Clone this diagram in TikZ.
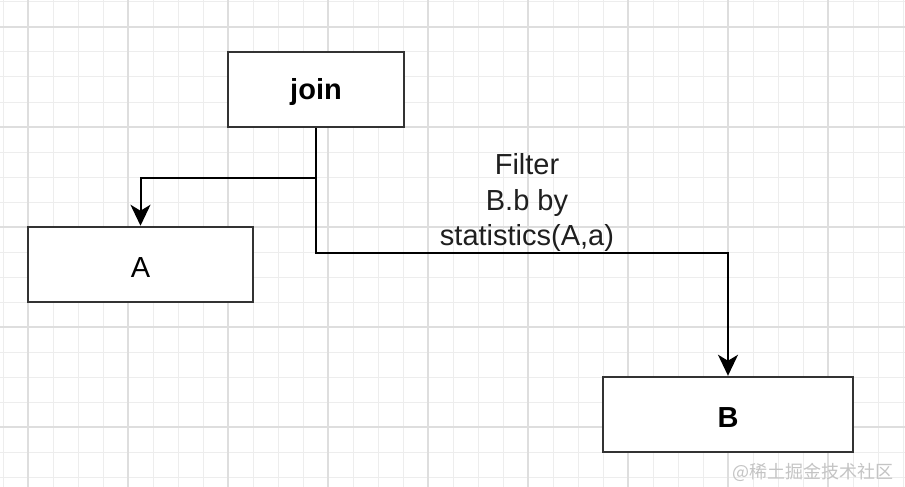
\documentclass[tikz,border=0pt]{standalone}
\usepackage{fontspec}
\setmainfont{Liberation Sans}
\newfontfamily\cjk{Noto Sans CJK SC}
\usetikzlibrary{arrows.meta}
\definecolor{minorgrid}{HTML}{EDEDED}
\definecolor{majorgrid}{HTML}{DEDEDE}
\definecolor{boxline}{HTML}{333333}
\definecolor{wmark}{HTML}{C4C4C4}
\tikzset{
  minorline/.style={draw=minorgrid, line width=1pt},
  majorline/.style={draw=majorgrid, line width=1.3pt},
  boxnode/.style={draw=boxline, line width=2.5pt, fill=white, inner sep=0pt, minimum height=75pt, font=\fontsize{29}{34}\selectfont},
  boxtext/.style={inner sep=0pt, font=\fontsize{29}{34}\selectfont},
  conn/.style={draw=black, line width=2pt, -{Stealth[length=21pt,width=20pt,inset=6pt]}},
  lbl/.style={align=center, inner sep=0pt, font=\fontsize{29}{35.5}\selectfont, text=black!88}
}
\begin{document}
\begin{tikzpicture}[x=1pt,y=-1pt]
\useasboundingbox (0,0) rectangle (905,487);
\fill[white] (0,0) rectangle (905,487);
\foreach \x in {3,28,...,905} \draw[minorline] (\x,0) -- (\x,487);
\foreach \y in {2,27,...,487} \draw[minorline] (0,\y) -- (905,\y);
\foreach \x in {28,128,...,905} \draw[majorline] (\x,0) -- (\x,487);
\foreach \y in {27,127,...,487} \draw[majorline] (0,\y) -- (905,\y);

\node[boxnode, minimum width=176pt] (join) at (316,89.5) {};
\node[boxnode, minimum width=225pt] (A) at (140.5,264.5) {};
\node[boxnode, minimum width=250pt] (B) at (728,414.5) {};
\node[boxtext] (jointext) at ([yshift=-3pt]join.center) {\textbf{join}};
\node[boxtext] (Atext) at ([yshift=-3pt]A.center) {A};
\node[boxtext] (Btext) at ([yshift=-3pt]B.center) {\textbf{B}};

\draw[conn] (join.south) -- ++(0,50) -| (A.north);
\draw[conn] (join.south) -- ++(0,125) -| (B.north);

\node[lbl, anchor=south] (filt) at (527,252) {Filter\\B.b by\\statistics(A,a)};

\node[anchor=east, inner sep=0pt, text=wmark, font=\cjk\fontsize{18}{20}\selectfont] (wm) at (894,472) {@稀土掘金技术社区};
\end{tikzpicture}
\end{document}
